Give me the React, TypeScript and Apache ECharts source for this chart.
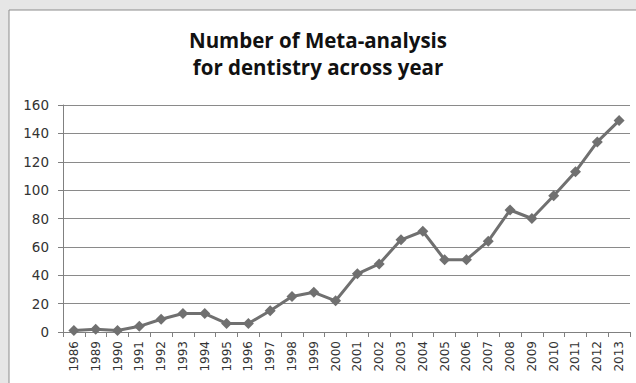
import React, { useEffect, useRef } from "react";
import * as echarts from "echarts";

const years = ["1986","1989","1990","1991","1992","1993","1994","1995","1996","1997","1998","1999","2000","2001","2002","2003","2004","2005","2006","2007","2008","2009","2010","2011","2012","2013"];
const counts = [1,2,1,4,9,13,13,6,6,15,25,28,22,41,48,65,71,51,51,64,86,80,96,113,134,149];
const yTicks = { min: 0, max: 160, interval: 20 };
const titleText = "Number of Meta-analysis\nfor dentistry across year";

export default function App() {
  const ref = useRef<HTMLDivElement>(null);
  useEffect(() => {
    if (!ref.current) return;
    const chart = echarts.init(ref.current, null, { renderer: "svg" });
    chart.setOption({
      animation: false,
      backgroundColor: "#e6e6e6",
      graphic: [
        {
          type: "rect",
          shape: { x: 9, y: 10, width: 640, height: 400 },
          style: { fill: "#ffffff", stroke: "#8c8c8c", lineWidth: 1 },
          z: -10,
          silent: true,
        },
      ],
      title: {
        text: titleText,
        left: "center",
        top: 21,
        textStyle: {
          fontFamily: "Open Sans",
          fontWeight: "bold",
          fontSize: 20.5,
          lineHeight: 27,
          color: "#111",
        },
      },
      grid: { left: 63, right: 6, top: 105, bottom: 51, containLabel: false },
      xAxis: {
        type: "category",
        data: years,
        boundaryGap: true,
        axisLine: { show: true, lineStyle: { color: "#808080", width: 1 } },
        axisTick: { show: true, length: 5, alignWithLabel: false, lineStyle: { color: "#808080" } },
        axisLabel: {
          rotate: 90,
          interval: 0,
          fontFamily: "DejaVu Sans",
          fontSize: 12,
          color: "#333",
          margin: 9,
        },
        splitLine: { show: false },
      },
      yAxis: {
        type: "value",
        min: yTicks.min,
        max: yTicks.max,
        interval: yTicks.interval,
        axisLine: { show: true, lineStyle: { color: "#808080", width: 1 } },
        axisTick: { show: true, length: 5, lineStyle: { color: "#808080" } },
        axisLabel: {
          fontFamily: "DejaVu Sans",
          fontSize: 13.5,
          color: "#333",
          margin: 14,
        },
        splitLine: { show: true, lineStyle: { color: "#8a8a8a", width: 1 } },
      },
      series: [
        {
          type: "line",
          data: counts,
          symbol: "diamond",
          symbolSize: 11,
          lineStyle: { color: "#707070", width: 3 },
          itemStyle: { color: "#707070" },
        },
      ],
    });
    return () => chart.dispose();
  }, []);
  return (
    <div
      ref={ref}
      style={{ position: "fixed", left: 0, top: 0, width: 636, height: 383 }}
    />
  );
}
